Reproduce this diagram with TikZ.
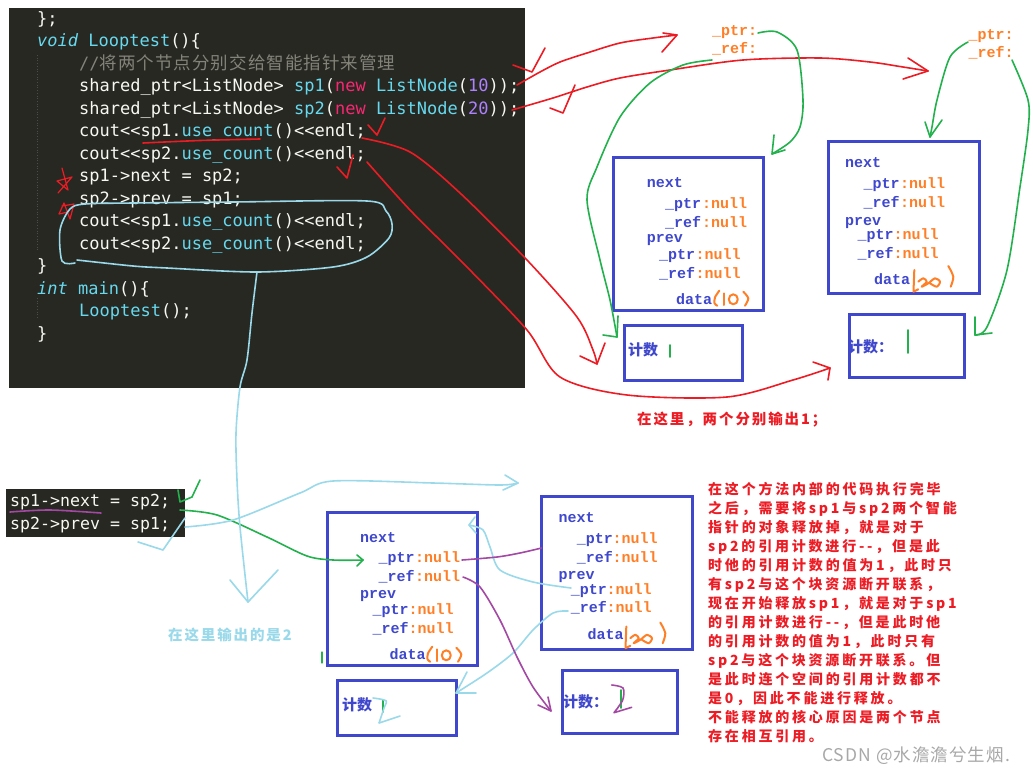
\documentclass[tikz,border=0pt]{standalone}
\usepackage{fontspec}
\newfontfamily\codefont{DejaVu Sans Mono}
\newfontfamily\nfont{Liberation Mono}
\newfontfamily\cjk{Noto Sans CJK SC}
\definecolor{bg}{HTML}{272822}
\definecolor{mwhite}{HTML}{F8F8F2}
\definecolor{mcyan}{HTML}{66D9EF}
\definecolor{mpink}{HTML}{F92672}
\definecolor{mpurple}{HTML}{AE81FF}
\definecolor{mgrey}{HTML}{83837A}
\definecolor{pred}{HTML}{ED1C24}
\definecolor{pgreen}{HTML}{22B14C}
\definecolor{pcyan}{HTML}{99D9EA}
\definecolor{ppurple}{HTML}{A349A4}
\definecolor{porange}{HTML}{FF7F27}
\definecolor{pblue}{HTML}{3F48CC}
\definecolor{wmark}{HTML}{A8A8A8}
\newcommand\kwc[1]{\textcolor{mcyan}{#1}}
\newcommand\kwp[1]{\textcolor{mpink}{#1}}
\newcommand\kwn[1]{\textcolor{mpurple}{#1}}
\begin{document}
\begin{tikzpicture}[x=1pt,y=-1pt,
  code/.style={font=\codefont\fontsize{17}{17}\selectfont, text=mwhite, anchor=base west, inner sep=0},
  scode/.style={font=\codefont\fontsize{16.6}{16.6}\selectfont, text=mwhite, anchor=base west, inner sep=0},
  ntext/.style={font=\nfont\bfseries\fontsize{15}{15}\selectfont, text=pblue, anchor=base west, inner sep=0},
  otext/.style={ntext, text=porange},
  cnt/.style={font=\cjk\bfseries\fontsize{15}{15}\selectfont, text=pblue, anchor=base west, inner sep=0},
  rtext/.style={font=\cjk\bfseries\fontsize{14}{14}\selectfont\addfontfeature{LetterSpace=20}, text=pred, anchor=base west, inner sep=0},
  captext/.style={font=\cjk\bfseries\fontsize{14.5}{14.5}\selectfont\addfontfeature{LetterSpace=13}, anchor=base west, inner sep=0},
  box/.style={draw=pblue, line width=3.2pt, anchor=north west, inner sep=0, outer sep=0},
  panel/.style={fill=bg, anchor=north west, inner sep=0, outer sep=0},
  hand/.style={line width=1.6pt, line cap=round, line join=round},
  guide/.style={draw=gray!60!black, line width=0.7pt, dotted}
]
\useasboundingbox (0,0) rectangle (1033,774);
\fill[white] (0,0) rectangle (1033,774);

% ---------------- code panel ----------------
\node[panel, minimum width=516, minimum height=380] (panel) at (9,8) {};
\draw[guide] (37.5,55) -- (37.5,252);
\draw[guide] (37.5,298) -- (37.5,318);
\node[code] (L1) at (37,24) {\};};
\node[code] (L2) at (37,46.5) {\kwc{\itshape void} \kwc{Looptest}()\{};
\node[code, text=mgrey] (L3) at (79,69) {//{\cjk\fontsize{17.5}{17.5}\selectfont\addfontfeature{LetterSpace=6}将两个节点分别交给智能指针来管理}};
\node[code] (L4) at (79,91.5) {shared\_ptr<ListNode> \kwc{sp1}(\kwp{new} \kwc{ListNode}(\kwn{10}));};
\node[code] (L5) at (79,114) {shared\_ptr<ListNode> \kwc{sp2}(\kwp{new} \kwc{ListNode}(\kwn{20}));};
\node[code] (L6) at (79,136.5) {cout<<sp1.\kwc{use\_count}()<<endl;};
\node[code] (L7) at (79,159) {cout<<sp2.\kwc{use\_count}()<<endl;};
\node[code] (L8) at (79,181.5) {sp1->next = sp2;};
\node[code] (L9) at (79,204) {sp2->prev = sp1;};
\node[code] (L10) at (79,226.5) {cout<<sp1.\kwc{use\_count}()<<endl;};
\node[code] (L11) at (79,249) {cout<<sp2.\kwc{use\_count}()<<endl;};
\node[code] (L12) at (37,271.5) {\}};
\node[code] (L13) at (37,294) {\kwc{\itshape int} \kwc{main}()\{};
\node[code] (L14) at (79,316.5) {\kwc{Looptest}();};
\node[code] (L15) at (37,339) {\}};

% ---------------- small code snippet ----------------
\node[panel, minimum width=179, minimum height=47.5] (snip) at (6,489.3) {};
\node[scode] (S1) at (10,506.7) {sp1->next = sp2;};
\node[scode] (S2) at (10,529.3) {sp2->prev = sp1;};

% ---------------- top labels ----------------
\node[otext] (t1p) at (712,35) {\_ptr:};
\node[otext] (t1r) at (712,53.3) {\_ref:};
\node[otext] (t2p) at (968.3,39.3) {\_ptr:};
\node[otext] (t2r) at (968.3,57.7) {\_ref:};

% ---------------- node boxes ----------------
\node[box, minimum width=150, minimum height=153] (n1) at (613.5,157.5) {};
\node[box, minimum width=118, minimum height=55] (c1) at (624.5,325.5) {};
\node[box, minimum width=151, minimum height=152] (n2) at (828.5,141.5) {};
\node[box, minimum width=115, minimum height=63] (c2) at (849.5,314.5) {};
\node[box, minimum width=150, minimum height=153] (nA) at (327.5,512.5) {};
\node[box, minimum width=119, minimum height=55] (cA) at (337.5,680.5) {};
\node[box, minimum width=151, minimum height=153] (nB) at (541.5,496.5) {};
\node[box, minimum width=115, minimum height=63] (cB) at (562.5,670.5) {};

% node 1 text
\node[ntext] (n1a) at (646.7,187.3) {next};
\node[ntext] (n1b) at (665,208.3) {\_ptr};
\node[otext] (n1bo) at (702,208.3) {:null};
\node[ntext] (n1c) at (665,227.3) {\_ref};
\node[otext] (n1co) at (702,227.3) {:null};
\node[ntext] (n1d) at (646.7,242.7) {prev};
\node[ntext] (n1e) at (659,259.3) {\_ptr};
\node[otext] (n1eo) at (695.5,259.3) {:null};
\node[ntext] (n1f) at (659,278.3) {\_ref};
\node[otext] (n1fo) at (695.5,278.3) {:null};
\node[ntext] (n1g) at (676,304) {data};
% node 2 text
\node[ntext] (n2a) at (845,167.3) {next};
\node[ntext] (n2b) at (863.3,188.3) {\_ptr};
\node[otext] (n2bo) at (900,188.3) {:null};
\node[ntext] (n2c) at (863.3,207.3) {\_ref};
\node[otext] (n2co) at (900,207.3) {:null};
\node[ntext] (n2d) at (845,225) {prev};
\node[ntext] (n2e) at (857.3,239.3) {\_ptr};
\node[otext] (n2eo) at (893.5,239.3) {:null};
\node[ntext] (n2f) at (857.3,258.3) {\_ref};
\node[otext] (n2fo) at (893.5,258.3) {:null};
\node[ntext] (n2g) at (874,284) {data};
% node A text
\node[ntext] (nAa) at (360,542.3) {next};
\node[ntext] (nAb) at (378.3,562.7) {\_ptr};
\node[otext] (nAbo) at (415,562.7) {:null};
\node[ntext] (nAc) at (378.3,581.7) {\_ref};
\node[otext] (nAco) at (415,581.7) {:null};
\node[ntext] (nAd) at (360,598.3) {prev};
\node[ntext] (nAe) at (372.3,614) {\_ptr};
\node[otext] (nAeo) at (408.5,614) {:null};
\node[ntext] (nAf) at (372.3,633.3) {\_ref};
\node[otext] (nAfo) at (408.5,633.3) {:null};
\node[ntext] (nAg) at (389.3,659) {data};
% node B text
\node[ntext] (nBa) at (558.3,522.3) {next};
\node[ntext] (nBb) at (576.7,543.3) {\_ptr};
\node[otext] (nBbo) at (612.5,543.3) {:null};
\node[ntext] (nBc) at (576.7,562.3) {\_ref};
\node[otext] (nBco) at (612.5,562.3) {:null};
\node[ntext] (nBd) at (558.3,579.3) {prev};
\node[ntext] (nBe) at (570.7,594) {\_ptr};
\node[otext] (nBeo) at (606.5,594) {:null};
\node[ntext] (nBf) at (570.7,612.7) {\_ref};
\node[otext] (nBfo) at (606.5,612.7) {:null};
\node[ntext] (nBg) at (587.3,639) {data};

% count texts
\node[cnt] (c1t) at (628,355.5) {计数};
\node[cnt] (c2t) at (848,352.5) {计数：};
\node[cnt] (cAt) at (342,710.5) {计数};
\node[cnt] (cBt) at (563,707.5) {计数：};

% hand-written (10) and (20)
\foreach \dx/\dy in {0/0, -287/356} {
  \begin{scope}[shift={(\dx,\dy)}, hand, porange, line width=2pt]
    \draw plot[smooth] coordinates {(719.3,290.7) (715,297.3) (714.5,303.3) (717.3,305.7)};
    \draw (724,293.3) -- (724,305);
    \draw (733.3,299.3) ellipse [x radius=4.5, y radius=5];
    \draw plot[smooth] coordinates {(743.3,291.7) (748.3,298.3) (745,305.7)};
  \end{scope}
}
\foreach \dx/\dy in {0/0, -288/356.5} {
  \begin{scope}[shift={(\dx,\dy)}, hand, porange, line width=2pt]
    \draw (914.3,270) -- (913.5,291.7) -- (918.3,289.3);
    \draw plot[smooth] coordinates {(918.3,281.7) (923.3,278.3) (926.7,281.7) (921.7,286.7) (928.3,283.3) (935,278.3) (940,281.7) (936.7,286.7) (930,283.3)};
    \draw plot[smooth] coordinates {(948.3,266) (953.3,276.7) (950.7,286.7)};
  \end{scope}
}

% ---------------- captions ----------------
\node[captext, text=pred] (capR) at (637,424) {在这里，两个分别输出1；};
\node[captext, text=pcyan] (capC) at (168,640) {在这里输出的是2};
\foreach \i/\t in {1/在这个方法内部的代码执行完毕,
  2/之后，需要将sp1与sp2两个智能,
  3/指针的对象释放掉，就是对于,
  4/sp2的引用计数进行{-}{-}，但是此,
  5/时他的引用计数的值为1，此时只,
  6/有sp2与这个块资源断开联系，,
  7/现在开始释放sp1，就是对于sp1,
  8/的引用计数进行{-}{-}，但是此时他,
  9/的引用计数的值为1，此时只有,
  10/sp2与这个块资源断开联系。但,
  11/是此时连个空间的引用计数都不,
  12/是0，因此不能进行释放。,
  13/不能释放的核心原因是两个节点,
  14/存在相互引用。} {
  \node[rtext] (expl\i) at (708,{494+19*(\i-1)}) {\t};
}
\node[font=\cjk\fontsize{17.5}{17.5}\selectfont\addfontfeature{LetterSpace=6}, text=wmark, anchor=base west, inner sep=0] (wm) at (822,761) {CSDN @水澹澹兮生烟.};

% ---------------- red strokes ----------------
\begin{scope}[hand, pred]
  \draw plot[smooth] coordinates {(143,143) (200,140.5) (260,139)};
  \draw (368,125) -- (377,135) -- (385,118);
  \draw (337,167) -- (347,178) -- (353,155);
  \draw[line width=1.2pt] (62,168) -- (68,190) -- (57,181) -- (72,177) -- (58,193);
  \draw[line width=1.2pt] (62,206) -- (74,204) -- (70,219) -- (64,203) -- (59,214) -- (68,212);
  \draw (513,65) -- (532,72) -- (545,48);
  \draw (550,108) -- (563,113) -- (575,85);
  \coordinate (r1s) at (517,85); \coordinate (r1e) at (677,35);
  \draw plot[smooth] coordinates {(r1s) (540,72) (560,62) (587,53) (620,43) (653,38) (r1e)};
  \draw (663,33) -- (r1e) -- (662,52);
  \coordinate (r2s) at (512,110); \coordinate (r2e) at (928,71);
  \draw plot[smooth] coordinates {(r2s) (553,98) (587,87) (620,78) (670,70) (743,60) (820,58) (870,62) (903,67) (r2e)};
  \draw (908,58) -- (r2e) -- (903,79);
  \coordinate (r3s) at (362,138); \coordinate (r3e) at (597,364);
  \draw plot[smooth] coordinates {(r3s) (410,152) (460,193) (527,260) (577,317) (593,350) (r3e)};
  \draw (580,356) -- (r3e) -- (605,343);
  \coordinate (r4s) at (367,162); \coordinate (r4e) at (830,368);
  \draw plot[smooth] coordinates {(r4s) (410,210) (467,267) (527,330) (560,377) (627,395) (727,397) (793,380) (r4e)};
  \draw (813,362) -- (r4e) -- (828,380);
\end{scope}

% ---------------- green strokes ----------------
\begin{scope}[hand, pgreen]
  \coordinate (g1e) at (772,154);
  \draw plot[smooth] coordinates {(758,33) (777,32) (797,50) (803,100) (800,127) (790,142) (g1e)};
  \draw (774,135) -- (g1e) -- (785,150);
  \coordinate (g2e) at (617,337);
  \draw plot[smooth] coordinates {(712,60) (683,65) (650,83) (620,117) (597,167) (587,200) (600,260) (610,300) (g2e)};
  \draw (618,316) -- (g2e) -- (603,335);
  \coordinate (g3e) at (930,137);
  \draw plot[smooth] coordinates {(968,42) (950,57) (937,100) (932,127) (g3e)};
  \draw (925,122) -- (g3e) -- (942,120);
  \coordinate (g4e) at (975,335);
  \draw plot[smooth] coordinates {(1012,60) (1028,100) (1028,130) (1020,187) (1007,270) (987,327) (g4e)};
  \draw (975,317) -- (g4e) -- (992,333);
  \coordinate (g5e) at (363,560);
  \draw plot[smooth] coordinates {(180,510) (217,515) (267,537) (307,556) (333,560) (g5e)};
  \draw (357,555) -- (g5e) -- (357,566);
  \draw (178,490) -- (180,502) -- (192,497) -- (200,480);
  \draw (670,345) -- (670,357);
  \draw (908,330) -- (908,353);
  \draw (383,700) -- (383,712);
  \draw (621,690) -- (621,708);
  \draw[line width=1.2pt] (322,652) -- (322,663);
\end{scope}

% ---------------- cyan strokes ----------------
\begin{scope}[hand, pcyan]
  \draw plot[smooth] coordinates {(75,263) (62,261) (60,230) (70,209) (85,204) (133,203) (233,202) (367,201) (386,211) (392,224) (389,238) (367,257) (333,267) (257,272) (167,268) (133,266) (77,260)};
  \coordinate (cy1e) at (248,602);
  \draw plot[smooth] coordinates {(257,272) (252,313) (247,360) (240,387) (236,433) (237,480) (240,527) (cy1e)};
  \draw (230,580) -- (cy1e) -- (278,570);
  \coordinate (cy2e) at (518,483);
  \draw plot[smooth] coordinates {(185,527) (233,520) (300,493) (333,481) (433,483) (500,485) (cy2e)};
  \draw (505,475) -- (cy2e) -- (503,490);
  \draw (138,542) -- (163,550) -- (185,518);
  \coordinate (cy3e) at (469,525);
  \draw plot[smooth] coordinates {(571,588) (533,582) (500,570) (490,547) (483,530) (cy3e)};
  \draw (475,517) -- (cy3e) -- (476,533);
  \coordinate (cy4e) at (456,693);
  \draw plot[smooth] coordinates {(568,611) (553,613) (533,630) (513,653) (487,673) (cy4e)};
  \draw (467,672) -- (cy4e) -- (476,693);
  \draw plot[smooth] coordinates {(373,698) (386,700.7) (384,708) (379,723)} -- (400,716);
\end{scope}

% ---------------- purple strokes ----------------
\begin{scope}[hand, ppurple]
  \draw plot[smooth] coordinates {(10,512) (50,510) (101,513)};
  \draw plot[smooth] coordinates {(462,560) (497,557) (520,553) (nB.west |- 0,548)};
  \coordinate (p2e) at (551,711);
  \draw plot[smooth] coordinates {(463,577) (480,587) (500,620) (517,657) (533,687) (p2e)};
  \draw (538,705) -- (p2e) -- (548,697);
  \draw plot[smooth] coordinates {(611.7,685) (623,688) (622.7,700) (614,712.7)} -- (631.7,707.3);
\end{scope}
\end{tikzpicture}
\end{document}
